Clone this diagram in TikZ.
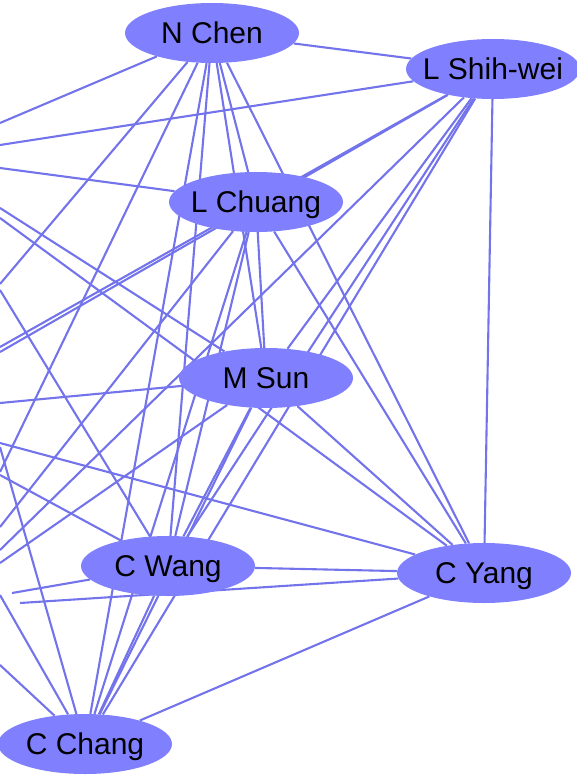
\documentclass[tikz,border=0pt]{standalone}
\usepackage{fontspec}
\setmainfont{Liberation Sans}
\usetikzlibrary{shapes.geometric,backgrounds}
\newlength{\du}
\setlength{\du}{1pt}

\begin{document}
\begin{tikzpicture}[
  person/.style={ellipse,fill=nodecolor,draw=none,inner ysep=0pt,inner xsep=-40\du,
    minimum width=174\du,minimum height=60\du,text depth=0pt,font=\fontsize{30}{36}\selectfont},
  link/.style={draw=linecolor,line width=2.1\du}]
\pgftransformxscale{1.000000}
\pgftransformyscale{-1.000000}
\definecolor{nodecolor}{rgb}{0.501961, 0.501961, 1.000000}
\definecolor{linecolor}{rgb}{0.450980, 0.450980, 0.921569}
\useasboundingbox (0\du,0\du) rectangle (577\du,778\du);
% people
\node[person] (nchen) at (212\du,33\du){N Chen};
\node[person] (lshih) at (493\du,69\du){L Shih-wei};
\node[person] (lchuang) at (256\du,202\du){L Chuang};
\node[person] (msun) at (266\du,378\du){M Sun};
\node[person] (cwang) at (168\du,566\du){C Wang};
\node[person] (cyang) at (484\du,573\du){C Yang};
\node[person] (cchang) at (85\du,744\du){C Chang};
% ends of links to people outside the frame
\coordinate (w1) at (0\du,123\du);
\coordinate (w2) at (0\du,145\du);
\coordinate (w3) at (0\du,168\du);
\coordinate (w4) at (0\du,208\du);
\coordinate (w5) at (0\du,218\du);
\coordinate (w6) at (0\du,284\du);
\coordinate (w7) at (0\du,290\du);
\coordinate (w8) at (0\du,347\du);
\coordinate (w9) at (0\du,352\du);
\coordinate (w10) at (0\du,403\du);
\coordinate (w11) at (0\du,443\du);
\coordinate (w12) at (0\du,447\du);
\coordinate (w13) at (0\du,472\du);
\coordinate (w14) at (0\du,475\du);
\coordinate (w15) at (0\du,527\du);
\coordinate (w16) at (0\du,550\du);
\coordinate (w17) at (0\du,563\du);
\coordinate (w18) at (0\du,595\du);
\coordinate (w19) at (0\du,665\du);
\coordinate (e1) at (12\du,593\du);
\coordinate (e2) at (20\du,603\du);
\begin{pgfonlayer}{background}
% links
\draw[link] (nchen)--(lshih);
\draw[link] (nchen)--(lchuang);
\draw[link] (nchen)--(msun);
\draw[link] (nchen)--(cyang);
\draw[link] (nchen)--(cwang);
\draw[link] (nchen)--(cchang);
\draw[link] (nchen)--(w1);
\draw[link] (nchen)--(w6);
\draw[link] (nchen)--(w13);
\draw[link] (lshih)--(msun);
\draw[link] (lshih)--(cwang);
\draw[link] (lshih)--(cchang);
\draw[link] (lshih)--(cyang);
\draw[link] (lshih)--(w2);
\draw[link] (lshih)--(w8);
\draw[link] (lshih)--(w9);
\draw[link] (lshih)--(w16);
\draw[link] (lchuang)--(msun);
\draw[link] (lchuang)--(cwang);
\draw[link] (lchuang)--(cchang);
\draw[link] (lchuang)--(cyang);
\draw[link] (lchuang)--(w3);
\draw[link] (lchuang)--(w15);
\draw[link] (msun)--(cwang);
\draw[link] (msun)--(cchang);
\draw[link] (msun)--(cyang);
\draw[link] (msun)--(w4);
\draw[link] (msun)--(w10);
\draw[link] (msun)--(w17);
\draw[link] (cwang)--(cyang);
\draw[link] (cwang)--(cchang);
\draw[link] (cwang)--(w7);
\draw[link] (cwang)--(w14);
\draw[link] (cwang)--(e1);
\draw[link] (cyang)--(cchang);
\draw[link] (cyang)--(w5);
\draw[link] (cyang)--(w11);
\draw[link] (cyang)--(e2);
\draw[link] (cchang)--(w12);
\draw[link] (cchang)--(w18);
\draw[link] (cchang)--(w19);
\end{pgfonlayer}
\end{tikzpicture}
\end{document}
